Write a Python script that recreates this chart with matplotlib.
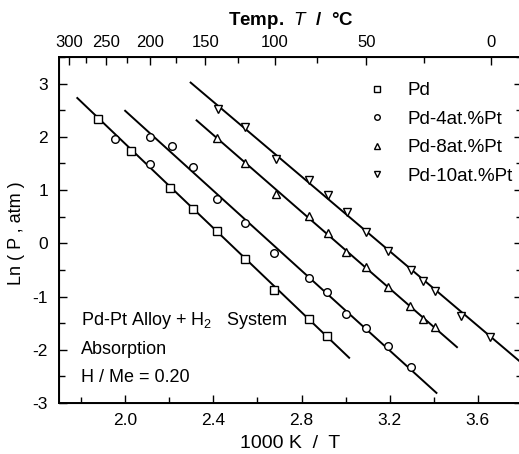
import numpy as np
import matplotlib.pyplot as plt
from matplotlib.ticker import MultipleLocator, FixedLocator

plt.rcParams['font.family'] = ['Liberation Sans', 'DejaVu Sans']
plt.rcParams['mathtext.fontset'] = 'custom'
plt.rcParams['mathtext.rm'] = 'Liberation Sans'
plt.rcParams['mathtext.it'] = 'Liberation Sans:italic'
plt.rcParams['axes.unicode_minus'] = False

# data: 1000 K / T  vs  Ln(P, atm)
pd_x = [1.879, 2.027, 2.203, 2.308, 2.418, 2.542, 2.677, 2.832, 2.915]
pd_y = [2.33, 1.73, 1.03, 0.65, 0.23, -0.29, -0.88, -1.43, -1.75]

pt4_x = [1.952, 2.113, 2.113, 2.211, 2.308, 2.418, 2.542, 2.677, 2.832, 2.915, 3.001, 3.094, 3.192, 3.297]
pt4_y = [1.96, 1.99, 1.49, 1.83, 1.44, 0.84, 0.38, -0.18, -0.65, -0.92, -1.32, -1.59, -1.93, -2.33]

pt8_x = [2.418, 2.545, 2.682, 2.835, 2.918, 3.001, 3.094, 3.192, 3.294, 3.350, 3.407]
pt8_y = [1.97, 1.50, 0.93, 0.52, 0.20, -0.17, -0.45, -0.82, -1.18, -1.42, -1.57]

pt10_x = [2.421, 2.545, 2.682, 2.835, 2.918, 3.008, 3.094, 3.192, 3.297, 3.350, 3.407, 3.524, 3.655]
pt10_y = [2.53, 2.19, 1.59, 1.19, 0.90, 0.59, 0.21, -0.15, -0.51, -0.71, -0.90, -1.37, -1.76]

# straight lines drawn through each series (end points)
line_x0 = [1.783, 2.000, 2.324, 2.297]
line_y0 = [2.73, 2.49, 2.31, 3.02]
line_x1 = [3.016, 3.412, 3.505, 3.779]
line_y1 = [-2.15, -2.81, -1.95, -2.18]

labels = ['Pd', 'Pd-4at.%Pt', 'Pd-8at.%Pt', 'Pd-10at.%Pt']
markers = ['s', 'o', '^', 'v']
top_ticks_c = [300, 250, 200, 150, 100, 50, 0]
top_minor_c = [275, 225, 175, 125, 75, 25]

series = [(pd_x, pd_y), (pt4_x, pt4_y), (pt8_x, pt8_y), (pt10_x, pt10_y)]

fig = plt.figure(figsize=(5.19, 4.54), dpi=100)
ax = fig.add_axes([0.1137, 0.1123, 0.8921, 0.7621])

for i, ((x, y), lab, m) in enumerate(zip(series, labels, markers)):
    xa = np.array([line_x0[i], line_x1[i]])
    ya = np.array([line_y0[i], line_y1[i]])
    k = (ya[1] - ya[0]) / (xa[1] - xa[0])
    if i == 3:
        # last line runs off the right edge
        xa[1] = 3.9
        ya[1] = ya[0] + k * (xa[1] - xa[0])
    ax.plot(xa, ya, color='black', lw=1.4)
    ax.plot(x, y, ls='none', marker=m, ms=5.5, mfc='white', mec='black', mew=1.0)
    ax.plot([], [], ls='none', marker=m, ms=4, mfc='white', mec='black', mew=1.0, label=lab)

ax.set_xlim(1.7, 3.8)
ax.set_ylim(-3, 3.5)
ax.xaxis.set_major_locator(FixedLocator([2.0, 2.4, 2.8, 3.2, 3.6]))
ax.xaxis.set_minor_locator(FixedLocator([1.8, 2.2, 2.6, 3.0, 3.4, 3.8]))
ax.yaxis.set_major_locator(MultipleLocator(1))
ax.yaxis.set_minor_locator(MultipleLocator(0.5))
ax.tick_params(which='both', direction='in', right=True, labelsize=12.5, width=1.0)
ax.tick_params(which='major', length=6)
ax.tick_params(which='minor', length=4)
ax.tick_params(axis='x', which='both', top=False, pad=7)
ax.tick_params(axis='y', pad=8)
for s in ax.spines.values():
    s.set_linewidth(1.4)

ax.set_xlabel('1000 K  /  T', fontsize=14, labelpad=5)
ax.set_ylabel('Ln ( P , atm )', fontsize=13)
ax.yaxis.set_label_coords(-0.074, 0.49)

# top axis in degrees Celsius
ax2 = ax.twiny()
ax2.set_xlim(ax.get_xlim())
ax2.xaxis.set_major_locator(FixedLocator([1000 / (t + 273.15) for t in top_ticks_c]))
ax2.xaxis.set_minor_locator(FixedLocator([1000 / (t + 273.15) for t in top_minor_c]))
ax2.set_xticklabels([str(t) for t in top_ticks_c])
ax2.tick_params(which='both', direction='in', labelsize=12, width=1.0, pad=5)
ax2.tick_params(which='major', length=6)
ax2.tick_params(which='minor', length=4)
ax2.set_xlabel(r'Temp.  $T$  /  °C', fontsize=13.5, fontweight='bold', labelpad=7)

ax.legend(loc='upper left', bbox_to_anchor=(0.667, 0.927), frameon=False, fontsize=13.5,
          handlelength=1.0, handletextpad=1.1, labelspacing=0.6, borderaxespad=0, borderpad=0)

ax.text(0.0475, 0.239, r'Pd-Pt Alloy + H$_2$   System', transform=ax.transAxes, fontsize=13, va='center')
ax.text(0.0475, 0.156, 'Absorption', transform=ax.transAxes, fontsize=13, va='center')
ax.text(0.0475, 0.075, 'H / Me = 0.20', transform=ax.transAxes, fontsize=13, va='center')

fig.savefig('out.png', dpi=100)
